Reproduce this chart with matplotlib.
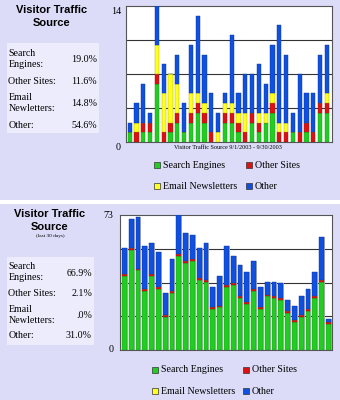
import matplotlib.pyplot as plt
import numpy as np
from matplotlib.patches import Rectangle

# ---- data: September 2003 (30 days) ----
sep_search = [1,0,1,1,6,0,1,2,1,2,3,2,0,0,2,2,1,0,2,1,2,3,0,0,1,0,1,0,3,3]
sep_other_sites = [0,1,1,1,1,1,1,1,0,1,1,1,1,0,1,1,1,1,1,1,0,1,1,1,0,1,1,1,1,1]
sep_email = [0,1,0,0,3,4,5,3,0,2,1,1,0,1,1,1,1,2,0,1,1,1,1,1,0,0,0,0,0,1]
sep_other = [1,2,4,1,4,3,0,3,3,5,8,5,4,2,1,7,2,4,4,5,3,5,10,7,2,6,3,4,5,5]
sep_labels = ["Search\nEngines:", "Other Sites:", "Email\nNewletters:", "Other:"]
sep_pcts = ["19.0%", "11.6%", "14.8%", "54.6%"]

# ---- data: last 30 days (31 bars) ----
last_search = [40,54,43,32,40,33,18,31,51,47,48,38,37,22,23,34,35,28,25,32,22,29,28,27,20,15,18,21,28,37,14]
last_other_sites = [1]*31
last_email = [0]*31
last_other = [14,16,28,23,17,19,12,17,21,15,13,16,20,11,16,21,15,17,16,15,11,7,8,8,6,8,10,11,13,23,2]
last_pcts = ["66.9%", "2.1%", ".0%", "31.0%"]

legend_names = ["Search Engines", "Other Sites", "Email Newsletters", "Other"]
colors = ["#22cc22", "#dd1111", "#ffff22", "#1050e0"]
edges = ["#119911", "#991111", "#aaaa00", "#0a3399"]

BG = "#dcdcf8"
BOX = "#ececfc"
W, H = 340, 400

def fx(x):
    return x / W

def fy(y):
    return 1 - y / H

fig = plt.figure(figsize=(3.4, 4.0), dpi=100, facecolor=BG)
serif = "Liberation Serif"
sans = "Liberation Sans"

# white separator between panels
fig.patches.append(Rectangle((0, fy(204)), 1, 4 / H, transform=fig.transFigure,
                             facecolor="white", edgecolor="none"))


def side_panel(top, box, rows, pcts, subtitle=None):
    fig.text(fx(box[4]), fy(top), "Visitor Traffic", ha="center", va="center",
             family=sans, weight="bold", fontsize=8)
    fig.text(fx(box[4]), fy(top + 13), "Source", ha="center", va="center",
             family=sans, weight="bold", fontsize=8)
    if subtitle:
        fig.text(fx(box[4]), fy(top + 22), subtitle, ha="center", va="center",
                 family=serif, fontsize=3.8)
    x0, y0, x1, y1 = box[:4]
    fig.patches.append(Rectangle((fx(x0), fy(y1)), (x1 - x0) / W, (y1 - y0) / H,
                                 transform=fig.transFigure, facecolor=BOX, edgecolor="none"))
    for (lab, ly, py), pct in zip(rows, pcts):
        fig.text(fx(x0 + 1.5), fy(ly), lab, ha="left", va="center", family=serif,
                 fontsize=7.2, linespacing=1.25)
        fig.text(fx(x1 - 2), fy(py), pct, ha="right", va="center", family=serif, fontsize=7.2)


def legend(y1, y2, xa, xb):
    spots = [(xa, y1), (xb, y1), (xa, y2), (xb, y2)]
    for (x, y), name, c in zip(spots, legend_names, colors):
        fig.patches.append(Rectangle((fx(x), fy(y + 3)), 6 / W, 6 / H,
                                     transform=fig.transFigure, facecolor=c,
                                     edgecolor="#333333", linewidth=0.5))
        fig.text(fx(x + 9), fy(y), name, ha="left", va="center", family=serif, fontsize=7.2)


# ---------------- top panel ----------------
side_panel(10, (7, 43, 99, 133, 52),
           [(sep_labels[0], 59, 59), (sep_labels[1], 81, 81),
            (sep_labels[2], 103, 103), (sep_labels[3], 125, 125)], sep_pcts)

ax1 = fig.add_axes([fx(126), fy(142), 206 / W, 136 / H])
ax1.set_facecolor("white")
x = np.arange(len(sep_search))
bottom = np.zeros(len(x))
for vals, c, e in zip([sep_search, sep_other_sites, sep_email, sep_other], colors, edges):
    ax1.bar(x, vals, bottom=bottom, width=0.62, color=c, edgecolor=e, linewidth=0.3, zorder=3)
    bottom += np.array(vals)
ax1.set_xlim(-0.55, 29.75)
ax1.set_ylim(0, 14)
for g in [3.5, 7, 10.5]:
    ax1.axhline(g, color="#333333", linewidth=0.8, zorder=2)
ax1.set_xticks([])
ax1.set_yticks([])
for s in ax1.spines.values():
    s.set_color("#555555")
    s.set_linewidth(0.8)
ax1.text(-0.025, 0.995, "14", transform=ax1.transAxes, ha="right", va="top",
         family=serif, fontsize=7.2)
ax1.text(-0.025, -0.005, "0", transform=ax1.transAxes, ha="right", va="top",
         family=serif, fontsize=7.2)
fig.text(fx(228), fy(147.5), "Visitor Traffic Source 9/1/2003 - 9/30/2003",
         ha="center", va="center", family=serif, fontsize=4.4)
legend(165, 186, 154, 246)

# ---------------- bottom panel ----------------
side_panel(214, (7, 257, 94, 345, 50),
           [(sep_labels[0], 272, 273), (sep_labels[1], 294, 294),
            (sep_labels[2], 315, 315), (sep_labels[3], 336, 336)], last_pcts,
           subtitle="(last 30 days)")

ax2 = fig.add_axes([fx(120), fy(350), 212 / W, 135 / H])
ax2.set_facecolor("white")
x2 = np.arange(len(last_search))
totals = np.array(last_search) + np.array(last_other_sites) + np.array(last_email) + np.array(last_other)
ax2.bar(x2 + 0.17, totals + 0.6, bottom=-0.6, width=0.7, color="#b4b4bc",
        linewidth=0, zorder=2.5, clip_on=False)
bottom = np.zeros(len(x2))
for vals, c, e in zip([last_search, last_other_sites, last_email, last_other], colors, edges):
    ax2.bar(x2, vals, bottom=bottom, width=0.7, color=c, edgecolor=e, linewidth=0.3, zorder=3)
    bottom += np.array(vals)
ax2.set_xlim(-0.64, 30.54)
ax2.set_ylim(0, 73)
for g in [18.25, 36.5, 54.75]:
    ax2.axhline(g, color="#333333", linewidth=0.8, zorder=2)
ax2.set_xticks([])
ax2.set_yticks([])
for s in ax2.spines.values():
    s.set_color("#555555")
    s.set_linewidth(0.8)
ax2.text(-0.03, 1.0, "73", transform=ax2.transAxes, ha="right", va="center",
         family=serif, fontsize=7.2)
ax2.text(-0.03, 0.0, "0", transform=ax2.transAxes, ha="right", va="center",
         family=serif, fontsize=7.2)
legend(370, 391, 152, 243)

fig.savefig("out.png", dpi=100, facecolor=BG)
